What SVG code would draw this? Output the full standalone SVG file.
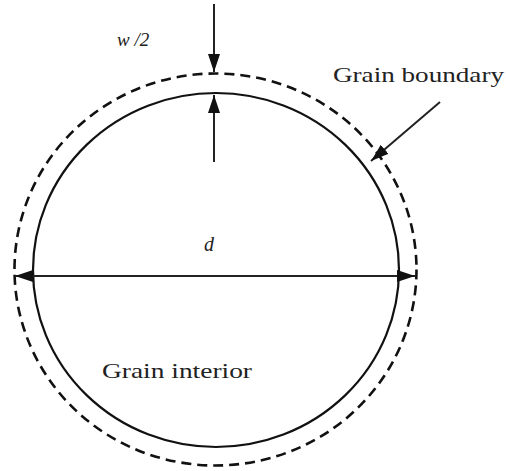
<svg xmlns="http://www.w3.org/2000/svg" width="506" height="471" viewBox="0 0 506 471">
<style>
.lbl{font-family:"Liberation Serif","Times New Roman",serif;fill:#222}
.ln{stroke:#222;stroke-width:2;fill:none}
</style>
<defs>
<marker id="ah" viewBox="0 0 18 12" refX="18" refY="6" markerWidth="9" markerHeight="6" markerUnits="strokeWidth" orient="auto">
<path d="M0,0 L18,6 L0,12 Z" fill="#111"/>
</marker>
</defs>
<rect width="506" height="471" fill="#fff"/>
<g id="grain-boundary-outer">
<ellipse cx="215.5" cy="269.5" rx="201" ry="196" fill="none" stroke="#111" stroke-width="2.6" stroke-dasharray="10 6"/>
</g>
<g id="grain-interior">
<ellipse cx="216" cy="270" rx="183" ry="177" fill="none" stroke="#111" stroke-width="2.2"/>
</g>
<g id="connectors">
<line class="ln" x1="214" y1="4" x2="214" y2="72" marker-end="url(#ah)"/>
<line class="ln" x1="214" y1="162" x2="214" y2="95" marker-end="url(#ah)"/>
<line class="ln" x1="216" y1="276" x2="15" y2="276" marker-end="url(#ah)"/>
<line class="ln" x1="216" y1="276" x2="415" y2="276" marker-end="url(#ah)"/>
<line class="ln" x1="440" y1="102" x2="371" y2="161" marker-end="url(#ah)"/>
</g>
<g id="labels">
<text class="lbl" x="117" y="46" font-size="19" font-style="italic">w /2</text>
<text class="lbl" x="333" y="82" font-size="22" textLength="171" lengthAdjust="spacingAndGlyphs">Grain boundary</text>
<text class="lbl" x="204" y="251" font-size="20" font-style="italic">d</text>
<text class="lbl" x="102" y="378" font-size="21" textLength="150" lengthAdjust="spacingAndGlyphs">Grain interior</text>
</g>
</svg>
